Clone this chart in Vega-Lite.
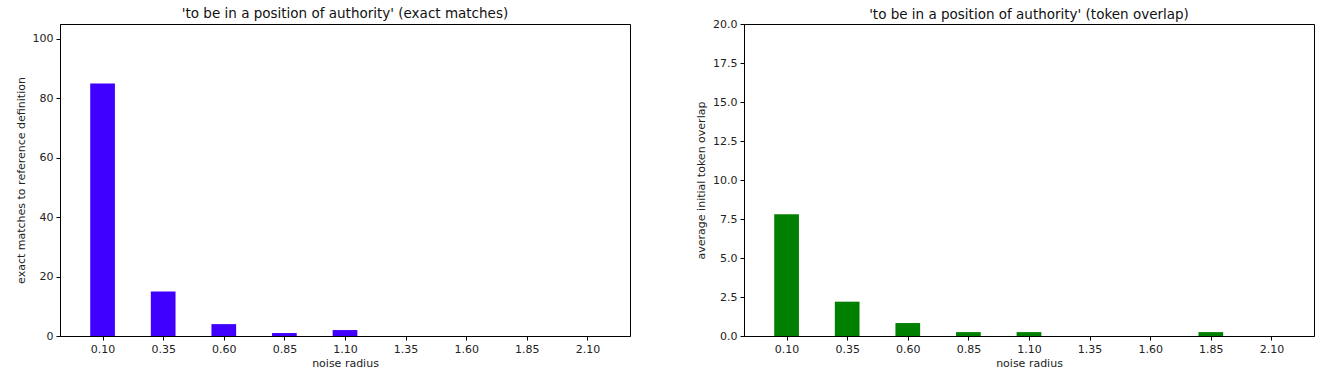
{
  "$schema": "https://vega.github.io/schema/vega-lite/v6.json",
  "background": "white",
  "padding": {"left": 14, "top": 6, "right": 5, "bottom": 5},
  "spacing": 114,
  "bounds": "flush",
  "config": {
    "font": "DejaVu Sans",
    "view": {"stroke": "black", "strokeWidth": 1},
    "axis": {"grid": false, "labelFont": "DejaVu Sans", "titleFont": "DejaVu Sans", "labelFontSize": 11, "titleFontSize": 11, "titleFontWeight": "normal", "labelColor": "#222", "titleColor": "#222", "domainColor": "black", "tickColor": "black", "tickSize": 4, "labelPadding": 3},
    "title": {"font": "DejaVu Sans", "fontSize": 13.5, "fontWeight": "normal", "color": "#111", "offset": 4}
  },
  "datasets": {
    "exact": [
      {"radius": 0.10, "value": 85},
      {"radius": 0.35, "value": 15},
      {"radius": 0.60, "value": 4},
      {"radius": 0.85, "value": 1},
      {"radius": 1.10, "value": 2},
      {"radius": 1.35, "value": 0},
      {"radius": 1.60, "value": 0},
      {"radius": 1.85, "value": 0},
      {"radius": 2.10, "value": 0}
    ],
    "overlap": [
      {"radius": 0.10, "value": 7.8},
      {"radius": 0.35, "value": 2.2},
      {"radius": 0.60, "value": 0.83},
      {"radius": 0.85, "value": 0.25},
      {"radius": 1.10, "value": 0.25},
      {"radius": 1.35, "value": 0},
      {"radius": 1.60, "value": 0},
      {"radius": 1.85, "value": 0.25},
      {"radius": 2.10, "value": 0}
    ]
  },
  "hconcat": [
    {
      "width": 570,
      "height": 312,
      "title": "'to be in a position of authority' (exact matches)",
      "data": {"name": "exact"},
      "mark": {"type": "bar", "width": 24.7, "color": "#4000ff"},
      "encoding": {
        "x": {"field": "radius", "type": "quantitative", "title": "noise radius",
          "scale": {"domain": [-0.055, 2.255], "nice": false, "zero": false},
          "axis": {"values": [0.10, 0.35, 0.60, 0.85, 1.10, 1.35, 1.60, 1.85, 2.10], "format": ".2f", "titlePadding": 3}},
        "y": {"field": "value", "type": "quantitative", "title": "exact matches to reference definition",
          "scale": {"domain": [0, 105], "nice": false},
          "axis": {"values": [0, 20, 40, 60, 80, 100], "titlePadding": 6}}
      }
    },
    {
      "width": 570,
      "height": 312,
      "title": {"text": "'to be in a position of authority' (token overlap)", "offset": -3},
      "data": {"name": "overlap"},
      "mark": {"type": "bar", "width": 24.7, "color": "#008000"},
      "encoding": {
        "x": {"field": "radius", "type": "quantitative", "title": "noise radius",
          "scale": {"domain": [-0.055, 2.255], "nice": false, "zero": false},
          "axis": {"values": [0.10, 0.35, 0.60, 0.85, 1.10, 1.35, 1.60, 1.85, 2.10], "format": ".2f", "titlePadding": 3}},
        "y": {"field": "value", "type": "quantitative", "title": "average initial token overlap",
          "scale": {"domain": [0, 20], "nice": false},
          "axis": {"values": [0, 2.5, 5, 7.5, 10, 12.5, 15, 17.5, 20], "format": ".1f", "titlePadding": 6}}
      }
    }
  ]
}
